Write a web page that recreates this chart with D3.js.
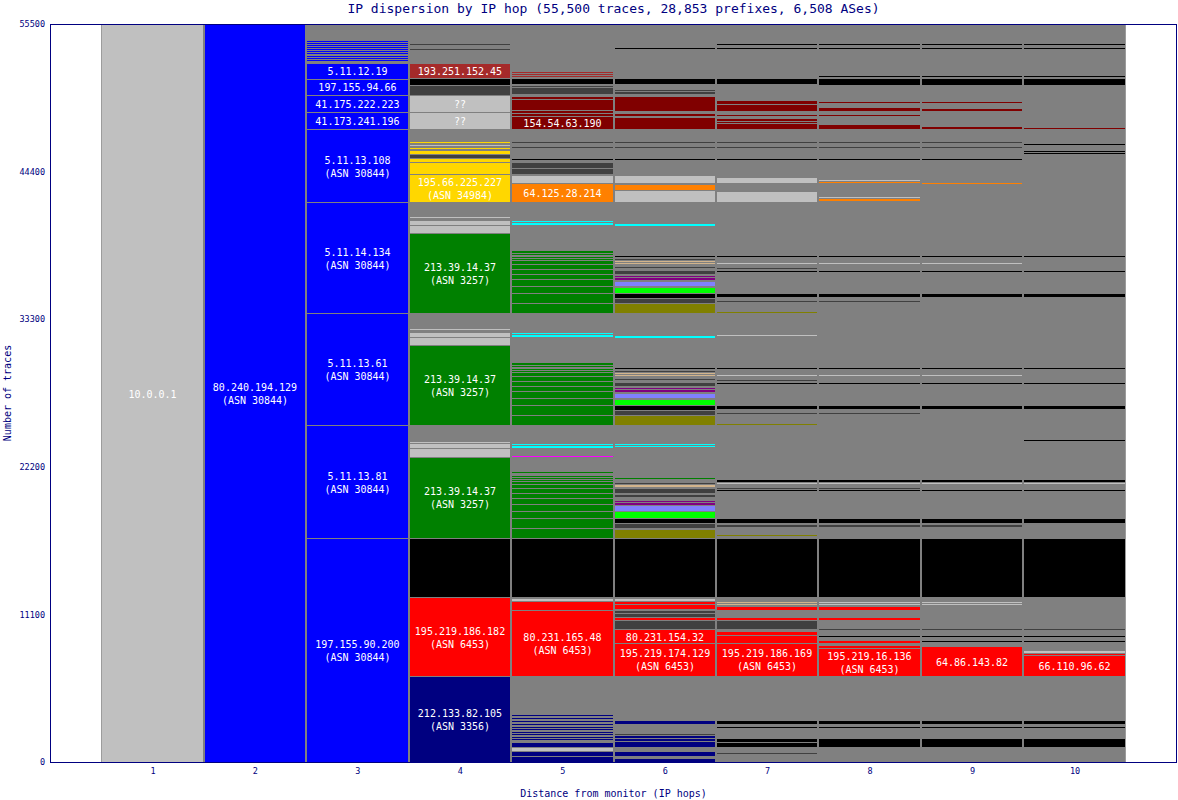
<!DOCTYPE html>
<html>
<head>
<meta charset="utf-8">
<script src="https://cdn.jsdelivr.net/npm/d3@7"></script>
<style>
  body { margin: 0; background: #fff; }
  text { font-family: "DejaVu Sans Mono", monospace; }
</style>
</head>
<body>
<div class="chart"></div>
<script>
// segment = [from trace, to trace, colour key, label line 1, label line 2]
var hop1 = [[0, 55500, "P", "10.0.0.1"]];
var hop2 = [[0, 55500, "B", "80.240.194.129", "(ASN 30844)"]];
var hop3 = [
  [0, 16845, "B", "197.155.90.200", "(ASN 30844)"],
  [16845, 25342, "B", "5.11.13.81", "(ASN 30844)"],
  [25342, 33765, "B", "5.11.13.61", "(ASN 30844)"],
  [33765, 42112, "B", "5.11.14.134", "(ASN 30844)"],
  [42112, 47602, "B", "5.11.13.108", "(ASN 30844)"],
  [47602, 48903, "B", "41.173.241.196"],
  [48903, 50196, "B", "41.175.222.223"],
  [50196, 51399, "B", "197.155.94.66"],
  [51399, 52587, "B", "5.11.12.19"],
  [52715, 52866, "B"], [52866, 53016, "B"], [53054, 53204, "B"], [53242, 53392, "B"],
  [53392, 53542, "B"], [53542, 53693, "B"], [53693, 53843, "B"], [53843, 53994, "B"],
  [53994, 54144, "B"], [54144, 54294, "B"]
];
var hop4 = [
  [0, 6467, "N", "212.133.82.105", "(ASN 3356)"],
  [6467, 12408, "R", "195.219.186.182", "(ASN 6453)"],
  [12408, 16845, "K"],
  [16845, 22959, "G", "213.39.14.37", "(ASN 3257)"],
  [22959, 23613, "P"], [23635, 24011, "P"], [24011, 24162, "P"],
  [25342, 31358, "G", "213.39.14.37", "(ASN 3257)"],
  [31358, 31959, "P"], [31997, 32334, "P"], [32486, 32636, "P"],
  [33765, 39781, "G", "213.39.14.37", "(ASN 3257)"],
  [39781, 40382, "P"], [40420, 40757, "P"], [40909, 41059, "P"],
  [42112, 44218, "Y", "195.66.225.227", "(ASN 34984)"],
  [44218, 45120, "Y"], [45120, 45421, "Y"], [45421, 45722, "DG"], [45722, 46022, "Y"],
  [46098, 46248, "Y"], [46323, 46474, "P"], [46549, 46699, "Y"],
  [47602, 48903, "P", "??"],
  [48903, 50196, "P", "??"],
  [50196, 50910, "DG"], [50910, 51437, "K"],
  [51437, 52587, "BR", "193.251.152.45"],
  [53542, 53693, "DG"], [53918, 54069, "DG"]
];
var hop5 = [
  [0, 429, "N"], [429, 850, "N"], [850, 1128, "P"], [1128, 1527, "N"],
  [1654, 1805, "N"], [1805, 1955, "N"], [2030, 2181, "N"], [2181, 2331, "N"], [2406, 2557, "N"],
  [2557, 2707, "N"], [2782, 2933, "N"], [3008, 3158, "N"], [3234, 3384, "N"], [3459, 3610, "N"],
  [6467, 11430, "R", "80.231.165.48", "(ASN 6453)"], [11430, 12107, "R"], [12107, 12333, "P"],
  [12408, 16845, "K"],
  [16845, 17597, "G"], [17597, 18326, "G"], [18326, 18875, "G"], [18875, 19379, "G"], [19379, 19853, "G"],
  [19853, 20229, "G"], [20229, 20582, "G"], [20582, 20906, "G"], [20906, 21131, "G"], [21131, 21282, "G"],
  [21282, 21455, "G"], [21455, 21605, "G"], [21733, 21906, "G"], [22936, 23086, "M"],
  [23650, 23838, "C"], [23838, 23966, "C"],
  [25342, 26071, "G"], [26071, 26823, "G"], [26823, 27350, "G"], [27350, 27899, "G"], [27899, 28275, "G"],
  [28275, 28651, "G"], [28651, 29027, "G"], [29027, 29305, "G"], [29305, 29500, "G"], [29500, 29651, "G"],
  [29703, 29876, "G"], [29876, 30079, "G"], [31959, 32185, "C"], [32185, 32313, "C"],
  [33765, 34494, "G"], [34494, 35246, "G"], [35246, 35773, "G"], [35773, 36322, "G"], [36322, 36698, "G"],
  [36698, 37074, "G"], [37074, 37450, "G"], [37450, 37728, "G"], [37728, 37923, "G"], [37923, 38074, "G"],
  [38126, 38299, "G"], [38299, 38502, "G"], [40382, 40608, "C"], [40608, 40736, "C"],
  [42112, 43541, "O", "64.125.28.214"], [43541, 44142, "P"], [44218, 44669, "DG"], [44669, 45120, "DG"],
  [45270, 45421, "K"], [46173, 46323, "DG"], [46549, 46699, "DG"],
  [47602, 48557, "DR", "154.54.63.190"], [48557, 48805, "DR"], [48805, 49008, "DR"], [49008, 49858, "DR"],
  [49858, 50061, "DR"], [50256, 50737, "DG"], [50737, 50933, "DG"], [51008, 51437, "K"],
  [51512, 51663, "BR"], [51663, 51813, "BR"], [51813, 51964, "BR"]
];
var hop6 = [
  [0, 323, "N"], [451, 850, "N"], [1128, 1557, "N"], [1557, 1805, "N"], [1805, 2053, "N"],
  [2053, 2181, "DG"], [2858, 3158, "N"],
  [6467, 8971, "R", "195.219.174.129", "(ASN 6453)"], [8971, 9979, "R", "80.231.154.32"],
  [9979, 10678, "DG"], [10678, 10927, "R"], [10927, 11182, "DG"], [11182, 11430, "DG"],
  [11528, 11859, "R"], [11859, 12107, "R"], [12107, 12333, "P"],
  [12408, 16845, "K"],
  [16845, 17544, "OL"], [17574, 17950, "DG"], [17995, 18349, "K"], [18371, 18853, "L"], [18853, 19326, "LB"],
  [19364, 19552, "PU"], [19552, 19702, "PU"], [19905, 20154, "DG"], [20251, 20582, "DG"], [20703, 20906, "T"],
  [20906, 21079, "DG"], [21259, 21409, "G"], [23665, 23838, "C"], [23838, 23989, "C"],
  [25342, 26094, "OL"], [26116, 26492, "DG"], [26492, 26846, "K"], [26846, 27297, "L"], [27395, 27771, "LB"],
  [27861, 28049, "PU"], [28049, 28199, "PU"], [28297, 28598, "DG"], [28703, 28899, "DG"], [29027, 29177, "T"],
  [29177, 29350, "T"], [29350, 29500, "DG"], [29553, 29726, "K"], [31922, 32110, "C"],
  [33765, 34517, "OL"], [34539, 34915, "DG"], [34915, 35269, "K"], [35269, 35720, "L"], [35818, 36194, "LB"],
  [36284, 36472, "PU"], [36472, 36622, "PU"], [36720, 37021, "DG"], [37126, 37322, "DG"], [37450, 37600, "T"],
  [37600, 37773, "T"], [37773, 37923, "DG"], [37976, 38149, "K"], [40345, 40533, "C"],
  [42112, 43014, "P"], [43037, 43443, "O"], [43563, 44142, "P"], [45270, 45421, "K"],
  [46173, 46323, "DG"], [46549, 46699, "DG"],
  [47602, 48527, "DR"], [48579, 48805, "DR"], [48978, 50061, "DR"], [50256, 50459, "DG"], [50459, 50610, "DG"],
  [51008, 51437, "K"], [53618, 53768, "K"]
];
var hop7 = [
  [602, 752, "DG"], [1151, 1504, "K"], [1504, 1805, "K"], [2557, 2707, "K"], [2880, 3158, "K"],
  [6467, 8971, "R", "195.219.186.169", "(ASN 6453)"], [8971, 9573, "R"], [9573, 9874, "R"],
  [10024, 10678, "DG"], [10678, 10927, "R"], [11453, 11731, "R"], [11806, 11934, "T"], [11934, 12107, "T"],
  [12408, 16845, "K"],
  [16995, 17146, "OL"], [17695, 17875, "DG"], [17995, 18371, "K"], [20379, 20530, "K"], [20530, 20680, "DG"],
  [20883, 21056, "P"], [21056, 21282, "K"],
  [25342, 25492, "OL"], [26169, 26342, "DG"], [26568, 26846, "K"], [28425, 28575, "K"], [28651, 28801, "DG"],
  [29027, 29177, "P"], [29553, 29703, "K"], [32035, 32186, "P"],
  [33765, 33915, "OL"], [34592, 34765, "DG"], [34991, 35269, "K"], [36848, 36998, "K"], [37074, 37224, "DG"],
  [37450, 37600, "P"], [37976, 38126, "K"],
  [42112, 42939, "P"], [43563, 43992, "P"], [45270, 45421, "K"], [46173, 46323, "DG"], [46549, 46699, "DG"],
  [47602, 48030, "DR"], [48030, 48226, "DR"], [48226, 48406, "DR"], [48557, 48730, "DR"], [48955, 49482, "DR"],
  [49482, 49782, "DR"], [51008, 51437, "K"], [53618, 53768, "K"], [53918, 54069, "K"]
];
var hop8 = [
  [1151, 1805, "K"], [2557, 2707, "K"], [2880, 3158, "K"],
  [6467, 8550, "R", "195.219.16.136", "(ASN 6453)"], [8550, 8821, "R"], [8949, 9174, "R"], [9377, 9550, "K"],
  [9964, 10114, "DG"], [10678, 10927, "R"], [11453, 11731, "R"], [11806, 11934, "P"], [11934, 12107, "P"],
  [12408, 16845, "K"],
  [17695, 17875, "DG"], [17995, 18371, "K"], [20379, 20530, "K"], [20530, 20680, "DG"], [20883, 21056, "P"],
  [21056, 21282, "K"],
  [26169, 26342, "DG"], [26568, 26846, "K"], [28425, 28575, "K"], [29027, 29177, "P"], [29553, 29703, "K"],
  [34592, 34765, "DG"], [34991, 35269, "K"], [36848, 36998, "K"], [37450, 37600, "P"], [37976, 38126, "K"],
  [42224, 42413, "O"], [42450, 42600, "P"], [43578, 43728, "O"], [43728, 43879, "P"], [45270, 45421, "K"],
  [46173, 46323, "DG"], [46549, 46699, "DG"],
  [47624, 47955, "DR"], [48557, 48730, "DR"], [48978, 49256, "DR"], [49534, 49707, "DR"],
  [50933, 51437, "K"], [51489, 51663, "K"], [53618, 53768, "K"], [53918, 54069, "K"]
];
var hop9 = [
  [1151, 1805, "K"], [2557, 2707, "K"], [2880, 3158, "K"],
  [6467, 8686, "R", "64.86.143.82"], [9024, 9197, "K"], [9377, 9550, "K"], [9964, 10114, "DG"],
  [11806, 11934, "P"], [11934, 12107, "P"],
  [12408, 16845, "K"],
  [17695, 17875, "DG"], [17995, 18371, "K"], [20379, 20530, "K"], [20883, 21056, "P"], [21056, 21282, "K"],
  [26568, 26846, "K"], [28425, 28575, "K"], [29027, 29177, "P"], [29553, 29703, "K"],
  [34991, 35269, "K"], [36848, 36998, "K"], [37450, 37600, "P"], [37976, 38126, "K"],
  [43466, 43616, "O"], [45270, 45421, "K"], [46173, 46323, "DG"], [46549, 46699, "DG"],
  [47602, 47827, "DR"], [48978, 49181, "DR"], [49557, 49731, "DR"],
  [50933, 51437, "K"], [51489, 51663, "K"], [53618, 53768, "K"], [53918, 54069, "K"]
];
var hop10 = [
  [1151, 1805, "K"], [2557, 2707, "K"], [2880, 3158, "K"],
  [6467, 8069, "R", "66.110.96.62"], [8069, 8219, "R"], [8219, 8422, "P"], [9024, 9197, "K"], [9377, 9550, "K"],
  [9964, 10114, "DG"],
  [12408, 16845, "K"],
  [17995, 18371, "K"], [20379, 20530, "K"], [20883, 21056, "P"], [21056, 21282, "K"], [24139, 24290, "K"],
  [26568, 26846, "K"], [28425, 28575, "K"], [29553, 29703, "K"],
  [34991, 35269, "K"], [36848, 36998, "K"], [37976, 38126, "K"],
  [45722, 45872, "K"], [45872, 46022, "K"], [46398, 46549, "K"],
  [47602, 47752, "DR"], [50933, 51437, "K"], [51489, 51663, "K"], [53618, 53768, "K"], [53918, 54069, "K"]
];

var hops = [hop1, hop2, hop3, hop4, hop5, hop6, hop7, hop8, hop9, hop10];
var yTicks = [0, 11100, 22200, 33300, 44400, 55500];
var xTicks = [1, 2, 3, 4, 5, 6, 7, 8, 9, 10];

var colors = {
  P: "#c0c0c0", B: "#0000ff", N: "#000080", R: "#ff0000", DR: "#800000", BR: "#a52a2a",
  K: "#000000", DG: "#404040", G: "#008000", Y: "#ffd700", O: "#ff8000", C: "#00ffff",
  M: "#ff00ff", PU: "#800080", LB: "#8080ff", L: "#00ff00", OL: "#808000", T: "#d2b48c"
};

var svgWidth = 1178;
var svgHeight = 800;
var margin = { top: 24, right: 1, bottom: 38, left: 50 };
var navy = "#000080";

var svg = d3.select(".chart")
  .append("svg")
  .attr("width", svgWidth)
  .attr("height", svgHeight)
  .style("display", "block");

var x = d3.scaleLinear().domain([0, 11]).range([margin.left, svgWidth - margin.right]);
var y = d3.scaleLinear().domain([0, 55500]).range([svgHeight - margin.bottom, margin.top]);

// grey backdrop behind the hop columns
svg.append("rect")
  .attr("x", x(0.5))
  .attr("y", y(55500))
  .attr("width", x(10.5) - x(0.5))
  .attr("height", y(0) - y(55500))
  .attr("fill", "#808080");

hops.forEach(function(segs, i) {
  var hop = i + 1;
  var x0 = Math.round(x(hop - 0.5)) + 1;
  var x1 = Math.round(x(hop + 0.5)) - 1;
  var g = svg.append("g").attr("shape-rendering", "crispEdges");

  g.selectAll("rect")
    .data(segs)
    .enter()
    .append("rect")
    .attr("x", x0)
    .attr("width", x1 - x0)
    .attr("y", d => Math.round(y(d[1])) + 1)
    .attr("height", d => Math.max(1, Math.round(y(d[0])) - Math.round(y(d[1])) - 1))
    .attr("fill", d => colors[d[2]]);

  var lab = g.selectAll("text")
    .data(segs.filter(d => d[3]))
    .enter()
    .append("text")
    .attr("text-anchor", "middle")
    .attr("fill", "#fff")
    .style("font-size", "10px");

  lab.each(function(d) {
    var cy = (y(d[0]) + y(d[1])) / 2 + 1;
    var t = d3.select(this);
    var lines = d[4] ? [d[3], d[4]] : [d[3]];
    lines.forEach(function(s, k) {
      t.append("tspan")
        .attr("x", (x0 + x1) / 2)
        .attr("y", cy + (k - (lines.length - 1) / 2) * 13)
        .attr("dy", "0.35em")
        .text(s);
    });
  });
});

// frame
svg.append("rect")
  .attr("x", x(0) + 0.5)
  .attr("y", y(55500) + 0.5)
  .attr("width", x(11) - x(0) - 1)
  .attr("height", y(0) - y(55500))
  .attr("fill", "none")
  .attr("stroke", navy);

var leftAxis = d3.axisLeft(y).tickValues(yTicks).tickFormat(d3.format("d")).tickSize(0).tickPadding(5);
var bottomAxis = d3.axisBottom(x).tickValues(xTicks).tickSize(0).tickPadding(6);

var ya = svg.append("g").attr("transform", `translate(${x(0)}, 0)`).call(leftAxis);
var xa = svg.append("g").attr("transform", `translate(0, ${y(0)})`).call(bottomAxis);
[ya, xa].forEach(function(a) {
  a.select(".domain").remove();
  a.selectAll("text")
    .style("font-family", "'DejaVu Sans Mono', monospace")
    .style("font-size", "8.5px")
    .attr("fill", navy);
});

svg.append("text")
  .attr("x", (x(0) + x(11)) / 2)
  .attr("y", 13)
  .attr("text-anchor", "middle")
  .attr("fill", navy)
  .style("font-size", "13px")
  .text("IP dispersion by IP hop (55,500 traces, 28,853 prefixes, 6,508 ASes)");

svg.append("text")
  .attr("x", (x(0) + x(11)) / 2)
  .attr("y", 797)
  .attr("text-anchor", "middle")
  .attr("fill", navy)
  .style("font-size", "10px")
  .text("Distance from monitor (IP hops)");

svg.append("text")
  .attr("transform", `translate(11, ${(y(0) + y(55500)) / 2}) rotate(-90)`)
  .attr("text-anchor", "middle")
  .attr("fill", navy)
  .style("font-size", "10px")
  .text("Number of traces");
</script>
</body>
</html>
